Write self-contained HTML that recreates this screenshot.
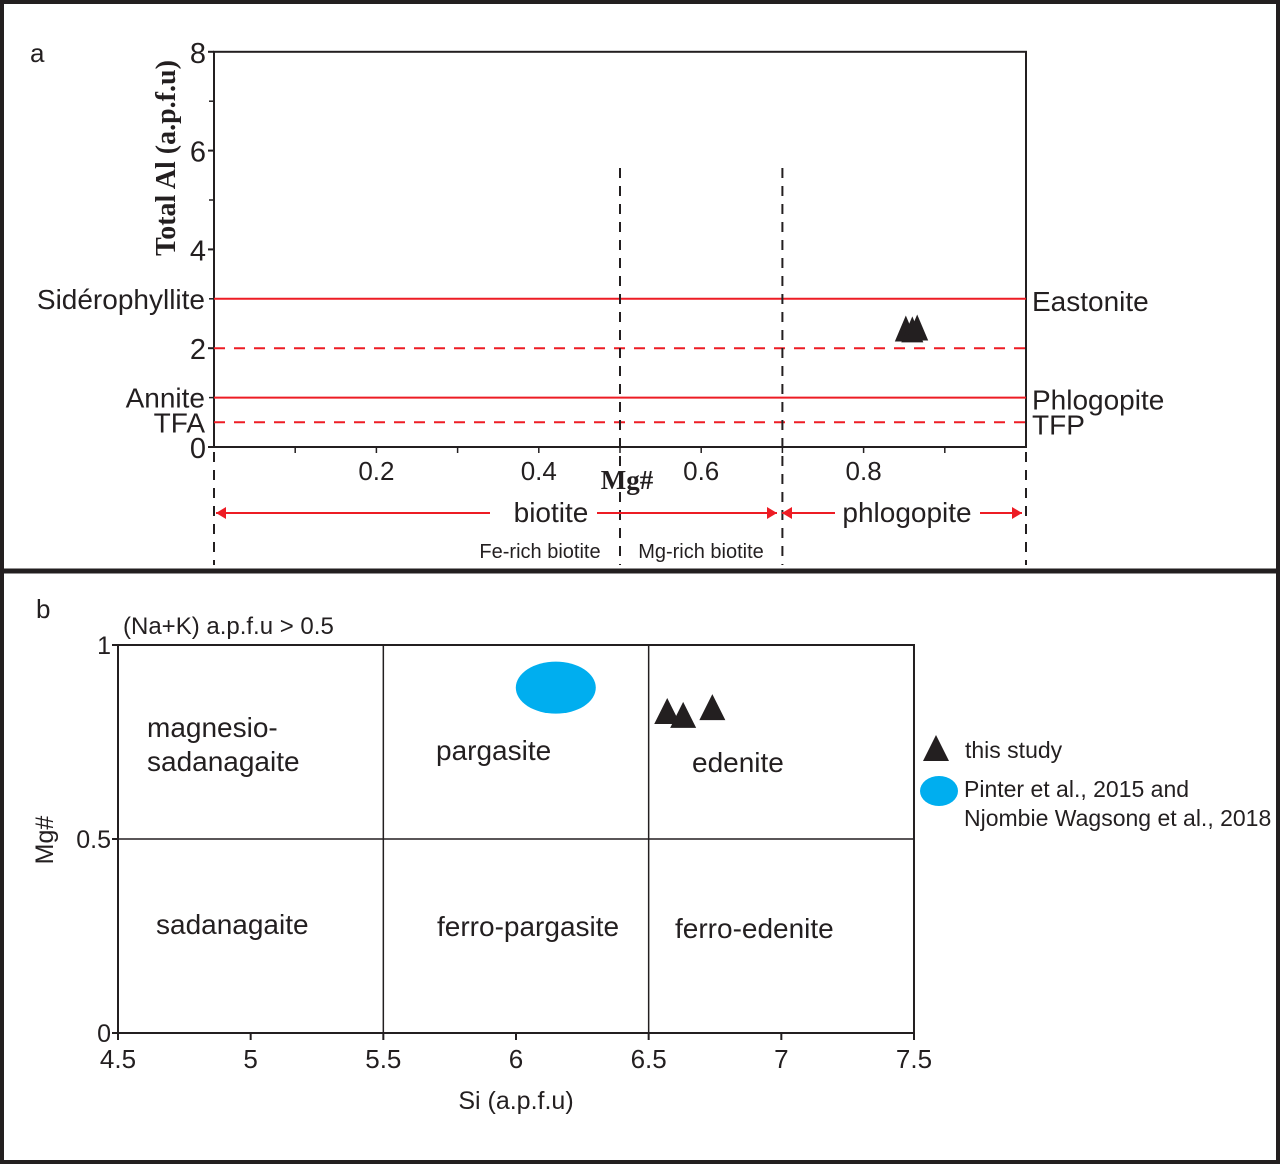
<!DOCTYPE html>
<html><head><meta charset="utf-8"><style>
html,body{margin:0;padding:0;background:#fff;}
svg{display:block;}
text{font-family:"Liberation Sans",sans-serif;fill:#231f20;}
</style></head><body>
<svg id="fig" width="1280" height="1164" viewBox="0 0 1280 1164">
<rect x="2" y="2" width="1276" height="1160" fill="#fff" stroke="#231f20" stroke-width="4"/>
<line x1="0" y1="571" x2="1280" y2="571" stroke="#231f20" stroke-width="5"/>
<g id="pa"></g>
<g id="pb"></g>
</svg>
<script>
// ---- Panel a data ----
const aXTicks = [0.2, 0.4, 0.6, 0.8];
const aYTicks = [0, 2, 4, 6, 8];
const aMgNum = [0.852, 0.86, 0.866];
const aTotalAl = [2.4, 2.38, 2.42];
const aSolidLines = [3, 1];
const aDashedLines = [2, 0.5];
const aDivisions = [0.5, 0.7];
// ---- Panel b data ----
const bXTicks = [4.5, 5, 5.5, 6, 6.5, 7, 7.5];
const bYTicks = [0, 0.5, 1];
const bSi = [6.57, 6.63, 6.74];
const bMg = [0.83, 0.82, 0.84];
const bLitSi = [6.15];
const bLitMg = [0.89];

const NS = "http://www.w3.org/2000/svg";
function mk(parent, tag, attrs, txt) {
  const e = document.createElementNS(NS, tag);
  for (const k in attrs) e.setAttribute(k, attrs[k]);
  if (txt !== undefined) e.textContent = txt;
  parent.appendChild(e);
  return e;
}
const pa = document.getElementById('pa');
const pb = document.getElementById('pb');

const ax = v => 214 + v * 812;
const ay = v => 447 - v * 49.4;
const RED = "#ed1c24";

let e = mk(pa, 'rect', {x: ax(0), y: ay(8), width: ax(1) - ax(0), height: ay(0) - ay(8), fill: 'none', stroke: '#231f20', 'stroke-width': 2});



aYTicks.forEach(t => {
  const l = mk(pa, 'line', {x1: ax(0) - 6, x2: ax(0), y1: ay(t), y2: ay(t), stroke: '#231f20', 'stroke-width': 2});
  
  
  const tx = mk(pa, 'text', {x: ax(0) - 8, y: ay(t) + 11, 'text-anchor': 'end', 'font-size': 29}, String(t));
  
  
});
[1, 3, 5, 7].forEach(t => {
  const l = mk(pa, 'line', {x1: ax(0) - 5, x2: ax(0), y1: ay(t), y2: ay(t), stroke: '#231f20', 'stroke-width': 1.5});
  
  
});
[0.1, 0.2, 0.3, 0.4, 0.5, 0.6, 0.7, 0.8, 0.9].forEach(t => {
  const l = mk(pa, 'line', {x1: ax(t), x2: ax(t), y1: ay(0), y2: ay(0) + 6, stroke: '#231f20', 'stroke-width': 1.5});
  
  
});
aXTicks.forEach(t => {
  const tx = mk(pa, 'text', {x: ax(t), y: 480, 'text-anchor': 'middle', 'font-size': 26}, t.toFixed(1));
  
  
});

aSolidLines.forEach(v => {
  const l = mk(pa, 'line', {x1: ax(0), x2: ax(1), y1: ay(v), y2: ay(v), stroke: RED, 'stroke-width': 2});
  
  
});
aDashedLines.forEach(v => {
  const l = mk(pa, 'line', {x1: ax(0), x2: ax(1), y1: ay(v), y2: ay(v), stroke: RED, 'stroke-width': 2, 'stroke-dasharray': '11 9'});
  
  
});
aDivisions.forEach(v => {
  const l = mk(pa, 'line', {x1: ax(v), x2: ax(v), y1: 168, y2: 565, stroke: '#231f20', 'stroke-width': 2, 'stroke-dasharray': '10 8'});
  
  
});
[0, 1].forEach(v => {
  const l = mk(pa, 'line', {x1: ax(v), x2: ax(v), y1: 452, y2: 565, stroke: '#231f20', 'stroke-width': 2, 'stroke-dasharray': '10 8'});
  
  
});

const labelsL = [['Sidérophyllite', 3], ['Annite', 1], ['TFA', 0.5]];
labelsL.forEach(([s, v]) => {
  const t = mk(pa, 'text', {x: 205, y: ay(v) + 10, 'text-anchor': 'end', 'font-size': 28}, s);
  
  
});
const labelsR = [['Eastonite', 3], ['Phlogopite', 1], ['TFP', 0.5]];
labelsR.forEach(([s, v]) => {
  const t = mk(pa, 'text', {x: 1032, y: ay(v) + 12, 'font-size': 28}, s);
  
  
});

e = mk(pa, 'text', {x: 30, y: 62, 'font-size': 26}, 'a');


e = mk(pa, 'text', {x: 0, y: 0, 'font-size': 28, 'font-weight': 'bold', 'text-anchor': 'middle', transform: 'translate(175,158) rotate(-90)', style: 'font-family:"Liberation Serif",serif'}, 'Total Al (a.p.f.u)');


e = mk(pa, 'text', {x: 627, y: 489, 'font-size': 27, 'font-weight': 'bold', 'text-anchor': 'middle', style: 'font-family:"Liberation Serif",serif'}, 'Mg#');



function arrow(x1, x2, head1, head2, name) {
  const g = mk(pa, 'g', {});
  
  
  mk(g, 'line', {x1: x1, x2: x2, y1: 513, y2: 513, stroke: RED, 'stroke-width': 2});
  if (head1) mk(g, 'polygon', {points: `${x1},513 ${x1+10},507 ${x1+10},519`, fill: RED});
  if (head2) mk(g, 'polygon', {points: `${x2},513 ${x2-10},507 ${x2-10},519`, fill: RED});
}
arrow(216, 490, true, false, 'biotite-arrow-left');
arrow(597, 777, false, true, 'biotite-arrow-right');
arrow(782, 835, true, false, 'phlogopite-arrow-left');
arrow(980, 1022, false, true, 'phlogopite-arrow-right');
e = mk(pa, 'text', {x: 551, y: 522, 'text-anchor': 'middle', 'font-size': 28}, 'biotite');


e = mk(pa, 'text', {x: 907, y: 522, 'text-anchor': 'middle', 'font-size': 28}, 'phlogopite');


e = mk(pa, 'text', {x: 540, y: 558, 'text-anchor': 'middle', 'font-size': 20}, 'Fe-rich biotite');


e = mk(pa, 'text', {x: 701, y: 558, 'text-anchor': 'middle', 'font-size': 20}, 'Mg-rich biotite');



function tri(parent, cx, cy, w, h) {
  return mk(parent, 'polygon', {points: `${cx},${cy-h/2} ${cx+w/2},${cy+h/2} ${cx-w/2},${cy+h/2}`, fill: '#231f20'});
}
aMgNum.forEach((v, i) => {
  const t = tri(pa, ax(v), ay(aTotalAl[i]), 22, 26);
  
  
});

// ---- panel b ----
const bx = v => 118 + (v - 4.5) * 265.33;
const by = v => 1033 - v * 388;
e = mk(pb, 'rect', {x: bx(4.5), y: by(1), width: bx(7.5) - bx(4.5), height: by(0) - by(1), fill: 'none', stroke: '#231f20', 'stroke-width': 2});


[5.5, 6.5].forEach(v => {
  const l = mk(pb, 'line', {x1: bx(v), x2: bx(v), y1: by(1), y2: by(0), stroke: '#231f20', 'stroke-width': 1.5});
  
  
});
e = mk(pb, 'line', {x1: bx(4.5), x2: bx(7.5), y1: by(0.5), y2: by(0.5), stroke: '#231f20', 'stroke-width': 1.5});


bXTicks.forEach(t => {
  const l = mk(pb, 'line', {x1: bx(t), x2: bx(t), y1: by(0), y2: by(0) + 7, stroke: '#231f20', 'stroke-width': 2});
  
  
  const tx = mk(pb, 'text', {x: bx(t), y: 1068, 'text-anchor': 'middle', 'font-size': 26}, String(t));
  
  
});
bYTicks.forEach(t => {
  const l = mk(pb, 'line', {x1: bx(4.5) - 6, x2: bx(4.5), y1: by(t), y2: by(t), stroke: '#231f20', 'stroke-width': 2});
  
  
  const tx = mk(pb, 'text', {x: bx(4.5) - 7, y: by(t) + 9, 'text-anchor': 'end', 'font-size': 25}, String(t));
  
  
});
e = mk(pb, 'text', {x: 516, y: 1109, 'text-anchor': 'middle', 'font-size': 25}, 'Si (a.p.f.u)');


e = mk(pb, 'text', {x: 0, y: 0, 'text-anchor': 'middle', 'font-size': 25, transform: 'translate(53,840) rotate(-90)'}, 'Mg#');


e = mk(pb, 'text', {x: 36, y: 618, 'font-size': 26}, 'b');


e = mk(pb, 'text', {x: 123, y: 634, 'font-size': 24}, '(Na+K) a.p.f.u > 0.5');


const fields = [['magnesio-', 147, 737], ['sadanagaite', 147, 771], ['pargasite', 436, 760], ['edenite', 692, 772], ['sadanagaite', 156, 934], ['ferro-pargasite', 437, 936], ['ferro-edenite', 675, 938]];
fields.forEach(([s, x, y]) => {
  const t = mk(pb, 'text', {x: x, y: y, 'font-size': 28}, s);
  
  
});
bLitSi.forEach((v, i) => {
  const el = mk(pb, 'ellipse', {cx: bx(v), cy: by(bLitMg[i]), rx: 40, ry: 26, fill: '#00aeef'});
  
  
});
bSi.forEach((v, i) => {
  const t = tri(pb, bx(v), by(bMg[i]), 26, 26);
  
  
});
const lg = mk(pb, 'g', {});


e = tri(lg, 936, 748, 26, 26);


e = mk(lg, 'text', {x: 965, y: 758, 'font-size': 23}, 'this study');


e = mk(lg, 'ellipse', {cx: 939, cy: 791, rx: 19, ry: 15, fill: '#00aeef'});


e = mk(lg, 'text', {x: 964, y: 797, 'font-size': 23}, 'Pinter et al., 2015 and');


e = mk(lg, 'text', {x: 964, y: 826, 'font-size': 23}, 'Njombie Wagsong et al., 2018');


</script>
</body></html>
